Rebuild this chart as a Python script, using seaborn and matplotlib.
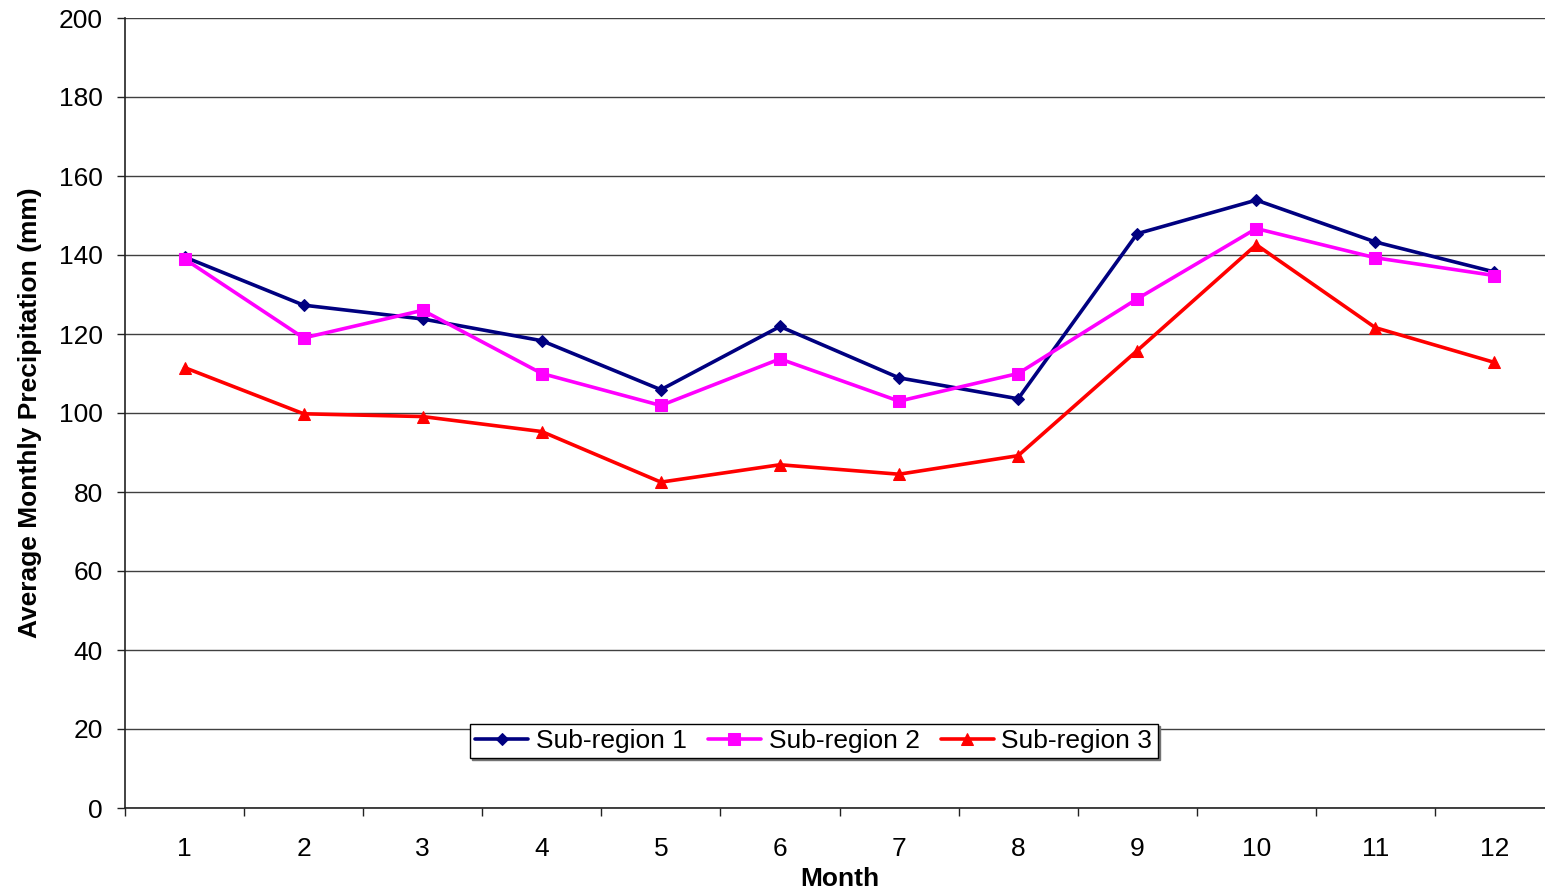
import matplotlib
matplotlib.use("Agg")
import matplotlib.pyplot as plt
from matplotlib.ticker import FixedLocator, NullFormatter, FixedFormatter
import seaborn as sns
import pandas as pd

# Monthly precipitation averages (mm) per sub-region
months = list(range(1, 13))
sub_region_1 = [139.5, 127.3, 123.8, 118.3, 105.9, 121.9, 108.9, 103.6, 145.4, 153.9, 143.3, 135.7]
sub_region_2 = [139.0, 119.0, 126.0, 110.0, 101.9, 113.7, 103.0, 110.0, 128.9, 146.7, 139.3, 134.8]
sub_region_3 = [111.5, 99.8, 99.1, 95.3, 82.5, 86.9, 84.5, 89.2, 115.8, 142.6, 121.6, 112.8]

series_names = ["Sub-region 1", "Sub-region 2", "Sub-region 3"]
series_values = [sub_region_1, sub_region_2, sub_region_3]
series_colors = ["#000080", "#FF00FF", "#FF0000"]
series_markers = ["D", "s", "^"]
series_msizes = [6.5, 8, 8.5]

y_ticks = list(range(0, 201, 20))

sns.set_theme(style="white")
plt.rcParams["font.family"] = ["Liberation Sans", "DejaVu Sans"]
plt.rcParams["text.color"] = "black"
plt.rcParams["axes.labelcolor"] = "black"

FS = 19

fig = plt.figure(figsize=(15.45, 8.94), dpi=100)
# plot area runs slightly past the right edge of the canvas
ax = fig.add_axes([125 / 1545, 86 / 894, 1429 / 1545, 790 / 894])

for name, vals, col, mk, ms in zip(series_names, series_values, series_colors,
                                    series_markers, series_msizes):
    df = pd.DataFrame({"Month": months, "Precip": vals})
    sns.lineplot(data=df, x="Month", y="Precip", ax=ax, color=col, marker=mk,
                 markersize=ms, markeredgecolor=col, linewidth=2.6, label=name,
                 zorder=3)

ax.set_xlim(0.5, 12.5)
ax.set_ylim(0, 200)

# Category-style x axis: ticks at bin edges, labels centred in the bins
ax.xaxis.set_major_locator(FixedLocator([m + 0.5 for m in range(0, 13)]))
ax.xaxis.set_major_formatter(NullFormatter())
ax.xaxis.set_minor_locator(FixedLocator(months))
ax.xaxis.set_minor_formatter(FixedFormatter([str(m) for m in months]))
ax.tick_params(axis="x", which="major", direction="out", length=6, width=1,
               color="#222222", bottom=True)
ax.tick_params(axis="x", which="minor", length=0, pad=21, labelsize=FS,
               labelcolor="black", bottom=True)

ax.set_yticks(y_ticks)
ax.tick_params(axis="y", direction="out", length=6, width=1, color="#222222",
               pad=10, labelsize=FS, labelcolor="black", left=True)

ax.grid(axis="y", color="#404040", linewidth=1, zorder=0)
ax.grid(axis="x", visible=False)
for side in ["top", "right"]:
    ax.spines[side].set_visible(False)
for side in ["left", "bottom"]:
    ax.spines[side].set_color("#222222")
    ax.spines[side].set_linewidth(1.2)

ax.set_xlabel("Month", fontsize=FS, fontweight="bold", labelpad=4)
ax.set_ylabel("Average Monthly Precipitation (mm)", fontsize=FS,
              fontweight="bold", labelpad=12)

leg = ax.legend(loc="lower center", bbox_to_anchor=(0.482, 0.063), ncol=3,
                fontsize=FS, frameon=True, fancybox=False,
                shadow={"color": "0.45", "alpha": 1, "ox": 1.5, "oy": -1.5},
                edgecolor="black", handlelength=2.0, handletextpad=0.3,
                columnspacing=0.8, borderpad=0.2, borderaxespad=0)
leg.get_frame().set_linewidth(1.0)

fig.savefig("out.png", dpi=100, facecolor="white")
